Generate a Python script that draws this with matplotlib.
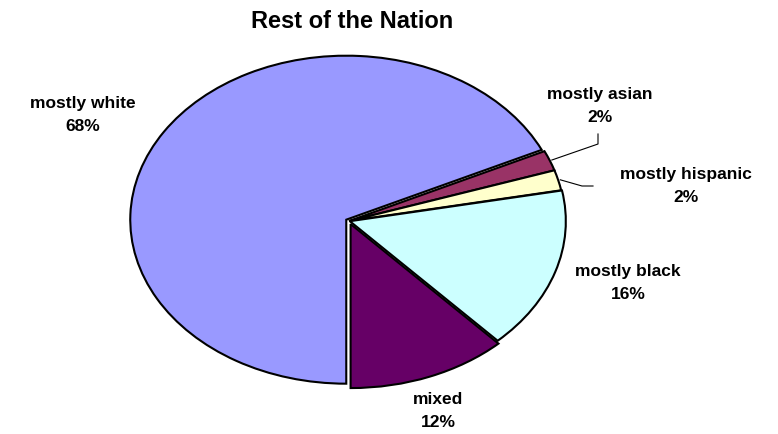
import numpy as np
import matplotlib.pyplot as plt

plt.rcParams['font.family'] = ['Liberation Sans', 'DejaVu Sans']

# shares of the "rest of the nation" group, in percent
categories = ["mostly white", "mostly asian", "mostly hispanic", "mostly black", "mixed"]
shares = [68, 2, 2, 16, 12]
colors = ["#9999FF", "#993366", "#FFFFCC", "#CCFFFF", "#660066"]
explode = [0.015, 0.0, 0.0, 0.004, 0.02]

# label block centres (pixels) and whether the label gets a leader line
label_pos = [(83, 115), (600, 106), (686, 186), (628, 283), (438, 411)]
leader_to = [None, (598, 144, 598, 134), (582, 186, 593, 186), None, None]

W, H = 778, 434
CX, CY, RX, RY = 349, 221, 216, 164


def px2x(px):
    return (px - CX) / RX


def py2y(py):
    return (CY - py) / RY


fig = plt.figure(figsize=(W / 100, H / 100), dpi=100)
ax = fig.add_axes([0, 0, 1, 1])

wedges, _ = ax.pie(
    shares,
    colors=colors,
    explode=explode,
    startangle=270,
    counterclock=False,
    wedgeprops=dict(edgecolor='black', linewidth=1.5),
)
ax.set_aspect('auto')
ax.set_xlim(px2x(0), px2x(W))
ax.set_ylim(py2y(H), py2y(0))
ax.axis('off')

for i, (name, val) in enumerate(zip(categories, shares)):
    lx, ly = label_pos[i]
    ax.text(px2x(lx), py2y(ly), f"{name}\n{val}%", ha='center', va='center',
            fontsize=12.5, fontweight='bold', linespacing=1.7)
    if leader_to[i] is not None:
        w = wedges[i]
        mid = np.deg2rad((w.theta1 + w.theta2) / 2)
        r = w.r + explode[i] + 0.01
        x0, y0 = w.center[0] + r * np.cos(mid), w.center[1] + r * np.sin(mid)
        ex, ey, tx, ty = leader_to[i]
        ax.plot([x0, px2x(ex), px2x(tx)], [y0, py2y(ey), py2y(ty)],
                color='black', linewidth=0.8)

fig.text(352 / W, 1 - 22 / H, "Rest of the Nation", ha='center', va='center',
         fontsize=17, fontweight='bold')

fig.savefig("out.png", dpi=100, facecolor='white')
